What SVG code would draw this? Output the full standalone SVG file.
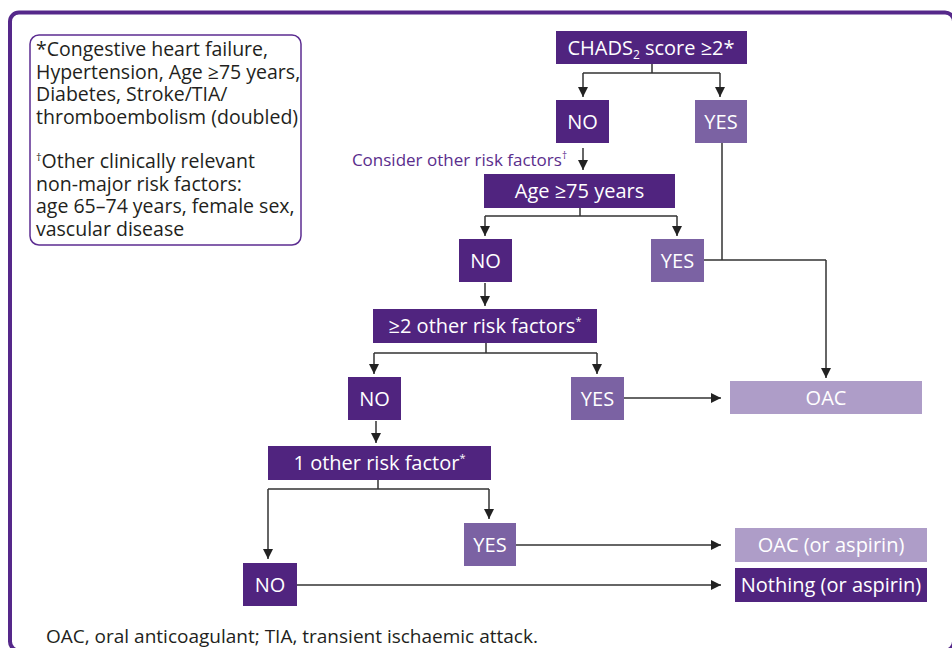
<svg xmlns="http://www.w3.org/2000/svg" width="952" height="648" viewBox="0 0 952 648">
<style>
.dk{fill:#50247f}
.md{fill:#7b62a3}
.lt{fill:#ae9dc8}
.nt{font-family:"Open Sans","Liberation Sans",sans-serif;font-size:20px;fill:#ffffff;text-anchor:middle}
.lg{font-family:"Open Sans","Liberation Sans",sans-serif;font-size:19.5px;fill:#231f20}
.sup{font-size:11px}
.cn{fill:none;stroke:#333333;stroke-width:1.5}
</style>
<defs>
<marker id="ah" viewBox="0 0 10 10" refX="10" refY="5" markerWidth="10" markerHeight="10" markerUnits="userSpaceOnUse" orient="auto">
<path d="M0,0 L10,5 L0,10 Z" fill="#222222"/>
</marker>
</defs>
<rect width="952" height="648" fill="#ffffff"/>
<rect id="frame" x="10" y="12.5" width="944" height="638" rx="9" fill="none" stroke="#55288a" stroke-width="4"/>
<g id="legend">
<rect x="30" y="35" width="271" height="210" rx="9" fill="#ffffff" stroke="#5c2d91" stroke-width="1.5"/>
<text class="lg" x="36" y="56">*Congestive heart failure,</text>
<text class="lg" x="36" y="78.5">Hypertension, Age ≥75 years,</text>
<text class="lg" x="36" y="101">Diabetes, Stroke/TIA/</text>
<text class="lg" x="36" y="123.5">thromboembolism (doubled)</text>
<text class="lg" x="36" y="168"><tspan class="sup" dy="-7">†</tspan><tspan dy="7">Other clinically relevant</tspan></text>
<text class="lg" x="36" y="190.5">non-major risk factors:</text>
<text class="lg" x="36" y="213">age 65–74 years, female sex,</text>
<text class="lg" x="36" y="235.5">vascular disease</text>
</g>
<g id="connectors">
<path class="cn" d="M652,64 V73 M583,73 H720"/>
<path class="cn" d="M583,73 V97" marker-end="url(#ah)"/>
<path class="cn" d="M720,73 V97" marker-end="url(#ah)"/>
<path class="cn" d="M583,148 V170" marker-end="url(#ah)"/>
<path class="cn" d="M580,208 V216 M485,216 H677"/>
<path class="cn" d="M485,216 V236" marker-end="url(#ah)"/>
<path class="cn" d="M677,216 V236" marker-end="url(#ah)"/>
<path class="cn" d="M722,143 V260 M704,260 H826"/>
<path class="cn" d="M826,260 V378" marker-end="url(#ah)"/>
<path class="cn" d="M485,283 V306" marker-end="url(#ah)"/>
<path class="cn" d="M486,343 V353 M374,353 H597"/>
<path class="cn" d="M374,353 V374" marker-end="url(#ah)"/>
<path class="cn" d="M597,353 V374" marker-end="url(#ah)"/>
<path class="cn" d="M624,398 H721" marker-end="url(#ah)"/>
<path class="cn" d="M376,421 V443" marker-end="url(#ah)"/>
<path class="cn" d="M378,480 V489 M268,489 H489"/>
<path class="cn" d="M268,489 V559" marker-end="url(#ah)"/>
<path class="cn" d="M489,489 V519" marker-end="url(#ah)"/>
<path class="cn" d="M516,545 H721" marker-end="url(#ah)"/>
<path class="cn" d="M297,585 H721" marker-end="url(#ah)"/>
</g>
<g id="chads">
<rect class="dk" x="556" y="31" width="191" height="33"/>
<text class="nt" x="651" y="54.5">CHADS<tspan font-size="12" dy="4">2</tspan><tspan dy="-4"> score ≥2*</tspan></text>
</g>
<g id="no1">
<rect class="dk" x="556" y="100" width="53" height="43"/>
<text class="nt" x="582.5" y="128.5">NO</text>
</g>
<g id="yes1">
<rect class="md" x="695" y="100" width="52" height="43"/>
<text class="nt" x="721" y="128.5">YES</text>
</g>
<g id="consider">
<text x="567" y="166" font-family="'Open Sans','Liberation Sans',sans-serif" font-size="17" fill="#5a2d8c" text-anchor="end">Consider other risk factors<tspan font-size="10" dy="-7">†</tspan></text>
</g>
<g id="age">
<rect class="dk" x="484" y="174" width="191" height="34"/>
<text class="nt" x="579.5" y="198">Age ≥75 years</text>
</g>
<g id="no2">
<rect class="dk" x="459" y="239" width="53" height="43"/>
<text class="nt" x="485.5" y="267.5">NO</text>
</g>
<g id="yes2">
<rect class="md" x="651" y="239" width="53" height="43"/>
<text class="nt" x="677.5" y="267.5">YES</text>
</g>
<g id="two">
<rect class="dk" x="373" y="309" width="224" height="34"/>
<text class="nt" x="485" y="333">≥2 other risk factors<tspan font-size="11" dy="-8">*</tspan></text>
</g>
<g id="no3">
<rect class="dk" x="348" y="377" width="53" height="43"/>
<text class="nt" x="374.5" y="405.5">NO</text>
</g>
<g id="yes3">
<rect class="md" x="571" y="377" width="53" height="43"/>
<text class="nt" x="597.5" y="405.5">YES</text>
</g>
<g id="oac">
<rect class="lt" x="730" y="381" width="192" height="33"/>
<text class="nt" x="826" y="404.5">OAC</text>
</g>
<g id="one">
<rect class="dk" x="268" y="446" width="223" height="34"/>
<text class="nt" x="379.5" y="470">1 other risk factor<tspan font-size="11" dy="-8">*</tspan></text>
</g>
<g id="yes4">
<rect class="md" x="464" y="523" width="52" height="43"/>
<text class="nt" x="490" y="551.5">YES</text>
</g>
<g id="no4">
<rect class="dk" x="243" y="563" width="54" height="43"/>
<text class="nt" x="270" y="591.5">NO</text>
</g>
<g id="oacasp">
<rect class="lt" x="735" y="528" width="192" height="34"/>
<text class="nt" x="831" y="552">OAC (or aspirin)</text>
</g>
<g id="nothing">
<rect class="dk" x="735" y="568" width="192" height="34"/>
<text class="nt" x="831" y="592">Nothing (or aspirin)</text>
</g>
<text x="46" y="643" font-family="'Open Sans','Liberation Sans',sans-serif" font-size="19" fill="#231f20">OAC, oral anticoagulant; TIA, transient ischaemic attack.</text>
</svg>
